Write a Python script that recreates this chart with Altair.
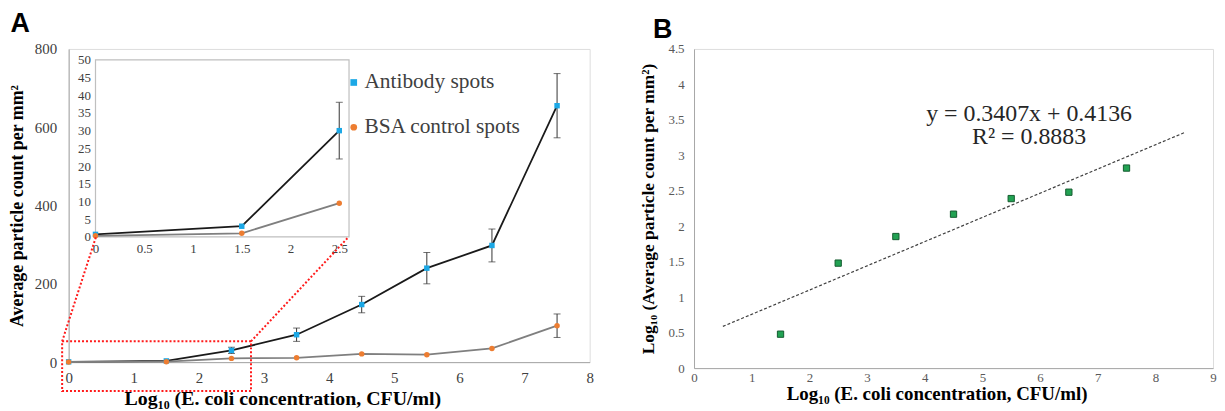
import altair as alt
import pandas as pd

# ---------------- data ----------------
conc = [0, 1.5, 2.5, 3.5, 4.5, 5.5, 6.5, 7.5]
antibody = [0.7, 3.0, 30, 70, 147, 240, 298, 655]
antibody_err = [0.3, 0.6, 8, 17, 21, 40, 42, 82]
bsa = [0.3, 1.0, 9.5, 11, 21, 19, 35, 93]
bsa_err = [0.1, 0.2, 0.5, 1, 1, 1, 2, 30]
series_names = ["Antibody spots", "BSA control spots"]

# zoom annotation (main-chart data coordinates)
zoom_x = [-0.1, 2.8]
zoom_y = [-74, 53]
connector_end_x = [0.42, 4.3]
connector_end_y = [320, 320]

# panel B
log_conc = [1.5, 2.5, 3.5, 4.5, 5.5, 6.5, 7.5]
log_count = [0.478, 1.48, 1.855, 2.17, 2.39, 2.48, 2.82]
equation = "y = 0.3407x + 0.4136"
r2_text = "R² = 0.8883"
equation_pos = [5.81, 3.58]

SERIF = "Liberation Serif"
line_colors = ["#1a1a1a", "#7f7f7f"]
point_colors = ["#1ba8e6", "#ed7d31"]
shapes = ["square", "circle"]

df = pd.DataFrame({
    "conc": conc * 2,
    "value": antibody + bsa,
    "err": antibody_err + bsa_err,
    "series": [series_names[0]] * len(conc) + [series_names[1]] * len(conc),
})
df["lo"] = df["value"] - df["err"]
df["hi"] = df["value"] + df["err"]

W_A, H_A = 524, 315

# ---------------- main chart (A) ----------------
xA = alt.Scale(domain=[0, 8], nice=False, zero=False)
yA = alt.Scale(domain=[0, 800], nice=False)

xA_axis = alt.Axis(orient="bottom", values=list(range(0, 9)), format="d",
                   title="Log₁₀ (E. coli concentration, CFU/ml)",
                   grid=False, ticks=False, labelPadding=9, labelFontSize=15, labelFont=SERIF,
                   labelColor="#404040", domainColor="#a6a6a6", labelFlush=False,
                   titleFont=SERIF, titleFontSize=20, titleFontWeight="bold", titleColor="black",
                   titleX=215, titleAnchor="start", titleAlign="center", titlePadding=3)
yA_axis = alt.Axis(orient="left", values=list(range(0, 801, 200)), format="d",
                   title="Average particle count per mm²",
                   grid=False, ticks=False, labelPadding=12, labelFontSize=15, labelFont=SERIF,
                   labelColor="#404040", domainColor="#a6a6a6", labelFlush=False,
                   titleFont=SERIF, titleFontSize=18, titleFontWeight="bold", titleColor="black",
                   titlePadding=8)

color_scale = alt.Scale(domain=series_names, range=point_colors)
shape_scale = alt.Scale(domain=series_names, range=shapes)
leg = alt.Legend(orient="none", legendX=276, legendY=23, title=None,
                 labelFont=SERIF, labelFontSize=21.5, labelColor="#404040",
                 rowPadding=22, symbolSize=45, labelOffset=0)

baseA = alt.Chart(df)


def series_lines(data, xs, ys, xax, yax):
    out = []
    for name, col in zip(series_names, line_colors):
        out.append(alt.Chart(data).transform_filter(alt.datum.series == name).mark_line(
            strokeWidth=1.8, color=col).encode(
            x=alt.X("conc:Q", scale=xs, axis=xax),
            y=alt.Y("value:Q", scale=ys, axis=yax)))
    return out


main_lines = series_lines(df, xA, yA, xA_axis, yA_axis)
main_err = baseA.transform_filter("datum.err >= 5").mark_errorbar(
    ticks=alt.TickConfig(size=7), color="#333333", thickness=1
).encode(
    x=alt.X("conc:Q", scale=xA, axis=xA_axis),
    y=alt.Y("lo:Q", scale=yA, axis=yA_axis),
    y2="hi:Q",
)
main_pts = baseA.mark_point(filled=True, opacity=1, size=30).encode(
    x=alt.X("conc:Q", scale=xA, axis=xA_axis),
    y=alt.Y("value:Q", scale=yA, axis=yA_axis),
    color=alt.Color("series:N", scale=color_scale, legend=leg),
    shape=alt.Shape("series:N", scale=shape_scale, legend=leg),
)

zoom_df = pd.DataFrame({"x0": [zoom_x[0]], "x1": [zoom_x[1]], "y0": [zoom_y[0]], "y1": [zoom_y[1]]})
zoom_box = alt.Chart(zoom_df).mark_rect(filled=False, stroke="#ff1a1a", strokeWidth=2,
                                        strokeDash=[2, 2]).encode(
    x=alt.X("x0:Q", scale=xA, axis=xA_axis), x2="x1:Q",
    y=alt.Y("y0:Q", scale=yA, axis=yA_axis), y2="y1:Q")
conn_df = pd.DataFrame({"x": zoom_x, "y": [zoom_y[1]] * 2, "x2": connector_end_x, "y2": connector_end_y})
connectors = alt.Chart(conn_df).mark_rule(stroke="#ff1a1a", strokeWidth=2, strokeDash=[2, 2]).encode(
    x=alt.X("x:Q", scale=xA, axis=xA_axis), y=alt.Y("y:Q", scale=yA, axis=yA_axis),
    x2="x2:Q", y2="y2:Q")

main_layer = alt.layer(*main_lines, main_err, main_pts, zoom_box, connectors)

# ---------------- inset ----------------
inset_df = df[df["conc"] <= 2.5]
xI = alt.Scale(domain=[0, 2.6], range=[27, 282], nice=False, zero=False)
yI = alt.Scale(domain=[0, 50], range=[189, 11], nice=False)
xI_axis = alt.Axis(orient="bottom", offset=-126, values=[0, 0.5, 1, 1.5, 2, 2.5], format="~g",
                   grid=False, ticks=False, domain=False, labelFont=SERIF, labelFontSize=13,
                   labelColor="#404040", labelPadding=6, title=None, labelFlush=False)
yI_axis = alt.Axis(orient="left", offset=-27, values=list(range(0, 51, 5)), format="d", grid=False,
                   ticks=False, domain=False, labelFont=SERIF, labelFontSize=13, labelColor="#404040",
                   labelPadding=5, title=None, labelFlush=False)

frame_df = pd.DataFrame({"x0": [0], "x1": [2.6], "y0": [0], "y1": [50]})
inset_frame = alt.Chart(frame_df).mark_rect(fill="white", stroke="#bfbfbf", strokeWidth=1.2).encode(
    x=alt.X("x0:Q", scale=xI, axis=xI_axis), x2="x1:Q",
    y=alt.Y("y0:Q", scale=yI, axis=yI_axis), y2="y1:Q")
inset_lines = series_lines(inset_df, xI, yI, xI_axis, yI_axis)
inset_err = alt.Chart(inset_df).transform_filter("datum.err >= 1").mark_errorbar(
    ticks=alt.TickConfig(size=7), color="#555555", thickness=1.2
).encode(x=alt.X("conc:Q", scale=xI, axis=xI_axis), y=alt.Y("lo:Q", scale=yI, axis=yI_axis), y2="hi:Q")
inset_pts = alt.Chart(inset_df).mark_point(filled=True, opacity=1, size=30).encode(
    x=alt.X("conc:Q", scale=xI, axis=xI_axis), y=alt.Y("value:Q", scale=yI, axis=yI_axis),
    color=alt.Color("series:N", scale=color_scale, legend=leg),
    shape=alt.Shape("series:N", scale=shape_scale, legend=leg))

inset_layer = alt.layer(inset_frame, *inset_lines, inset_err, inset_pts)

chartA = alt.layer(inset_layer, main_layer).resolve_scale(
    x="independent", y="independent"
).properties(
    width=W_A, height=H_A,
    title=alt.TitleParams("A", anchor="start", font="Liberation Sans", fontSize=27,
                          fontWeight="bold", color="black", dx=2, offset=4),
)

# ---------------- panel B ----------------
dfB = pd.DataFrame({"x": log_conc, "y": log_count})
xB = alt.Scale(domain=[0, 9], nice=False)
yB = alt.Scale(domain=[0, 4.5], nice=False)
xB_axis = alt.Axis(values=list(range(0, 10)), format="d", title="Log₁₀ (E. coli concentration, CFU/ml)",
                   grid=False, ticks=False, labelPadding=3, labelFontSize=13, labelFont=SERIF,
                   labelColor="#595959", domainColor="#a6a6a6", labelFlush=False,
                   titleFont=SERIF, titleFontSize=19, titleFontWeight="bold", titleColor="black",
                   titleX=244, titleAnchor="start", titleAlign="center", titlePadding=1)
yB_axis = alt.Axis(values=[i * 0.5 for i in range(10)], format="~g",
                   title="Log₁₀ (Average particle count per mm²)", labelOverlap=False,
                   grid=False, ticks=False, labelPadding=10, labelFontSize=13, labelFont=SERIF,
                   labelColor="#595959", domainColor="#a6a6a6", labelFlush=False,
                   titleFont=SERIF, titleFontSize=17.5, titleFontWeight="bold", titleColor="black",
                   titlePadding=11)

ptsB = alt.Chart(dfB).mark_square(size=40, color="#22a253", stroke="#145c2f", strokeWidth=1,
                                  opacity=1).encode(
    x=alt.X("x:Q", scale=xB, axis=xB_axis), y=alt.Y("y:Q", scale=yB, axis=yB_axis))
trend = alt.Chart(dfB).transform_regression("x", "y", extent=[0.5, 8.5]).mark_line(
    color="#404040", strokeWidth=1.2, strokeDash=[3, 2]).encode(
    x=alt.X("x:Q", scale=xB, axis=xB_axis), y=alt.Y("y:Q", scale=yB, axis=yB_axis))
eq_df = pd.DataFrame({"x": [equation_pos[0]], "y": [equation_pos[1]], "t": [equation + "\n" + r2_text]})
eq_text = alt.Chart(eq_df).mark_text(font=SERIF, fontSize=24, color="#262626", lineBreak="\n",
                                     lineHeight=23, align="center", baseline="middle").encode(
    x=alt.X("x:Q", scale=xB, axis=xB_axis), y=alt.Y("y:Q", scale=yB, axis=yB_axis), text="t:N")

chartB = alt.layer(trend, ptsB, eq_text).properties(
    width=522, height=321,
    title=alt.TitleParams("B", anchor="start", font="Liberation Sans", fontSize=27,
                          fontWeight="bold", color="black", dx=14, offset=-1),
)

chart = alt.hconcat(chartA, chartB, spacing=44).properties(padding=0).configure_view(
    stroke="#b0b0b0", strokeWidth=1
).configure_axis(
    labelFont=SERIF, titleFont=SERIF
).configure_legend(
    labelFont=SERIF
).configure(background="white")

chart.save("out.html", embed_options={"renderer": "svg", "actions": False})
